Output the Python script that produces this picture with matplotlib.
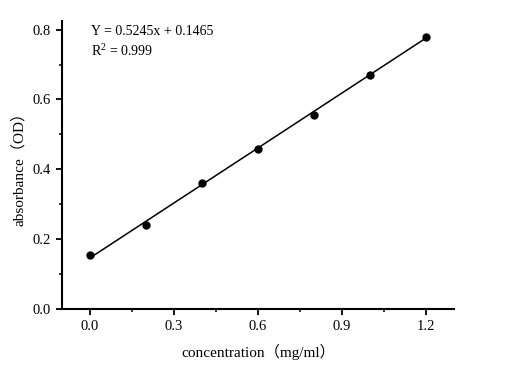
import matplotlib
matplotlib.use("Agg")
import matplotlib.pyplot as plt
from matplotlib.ticker import MultipleLocator, FormatStrFormatter

concentration = [0.0, 0.2, 0.4, 0.6, 0.8, 1.0, 1.2]
absorbance = [0.155, 0.241, 0.360, 0.458, 0.556, 0.670, 0.780]
slope = 0.5245
intercept = 0.1465
eq_text = "Y = 0.5245x + 0.1465"
r2_text = "R$^2$ = 0.999"

fam = ['Liberation Serif', 'Noto Sans CJK SC']
plt.rcParams['font.family'] = fam
plt.rcParams['mathtext.fontset'] = 'custom'
plt.rcParams['mathtext.rm'] = 'Liberation Serif'

fig = plt.figure(figsize=(5.16, 3.72), dpi=100)
ax = fig.add_axes([0.120, 0.169, 0.760, 0.775])

xfit = [concentration[0], concentration[-1]]
yfit = [slope * v + intercept for v in xfit]
ax.plot(xfit, yfit, color='black', lw=1.1, zorder=2)
ax.plot(concentration, absorbance, 'o', color='black', ms=5, zorder=3)

ax.set_xlim(-0.1, 1.3)
ax.set_ylim(0, 0.825)
ax.xaxis.set_major_locator(MultipleLocator(0.3))
ax.xaxis.set_minor_locator(MultipleLocator(0.15))
ax.yaxis.set_major_locator(MultipleLocator(0.2))
ax.yaxis.set_minor_locator(MultipleLocator(0.1))
ax.xaxis.set_major_formatter(FormatStrFormatter('%.1f'))
ax.yaxis.set_major_formatter(FormatStrFormatter('%.1f'))

for s in ['top', 'right']:
    ax.spines[s].set_visible(False)
for s in ['left', 'bottom']:
    ax.spines[s].set_linewidth(1.5)

ax.tick_params(which='major', direction='out', length=4, width=1.3, labelsize=10.5, pad=4)
ax.tick_params(which='minor', direction='out', length=2.5, width=1.1)

ax.set_xlabel("concentration（mg/ml）", fontsize=11, family=fam, labelpad=8)
ax.set_ylabel("absorbance（OD）", fontsize=11, family=fam, labelpad=5)

ax.text(0.075, 0.962, eq_text, transform=ax.transAxes, fontsize=10, va='center', ha='left')
ax.text(0.075, 0.897, r2_text, transform=ax.transAxes, fontsize=10, va='center', ha='left')

fig.savefig("out.png", dpi=100)
